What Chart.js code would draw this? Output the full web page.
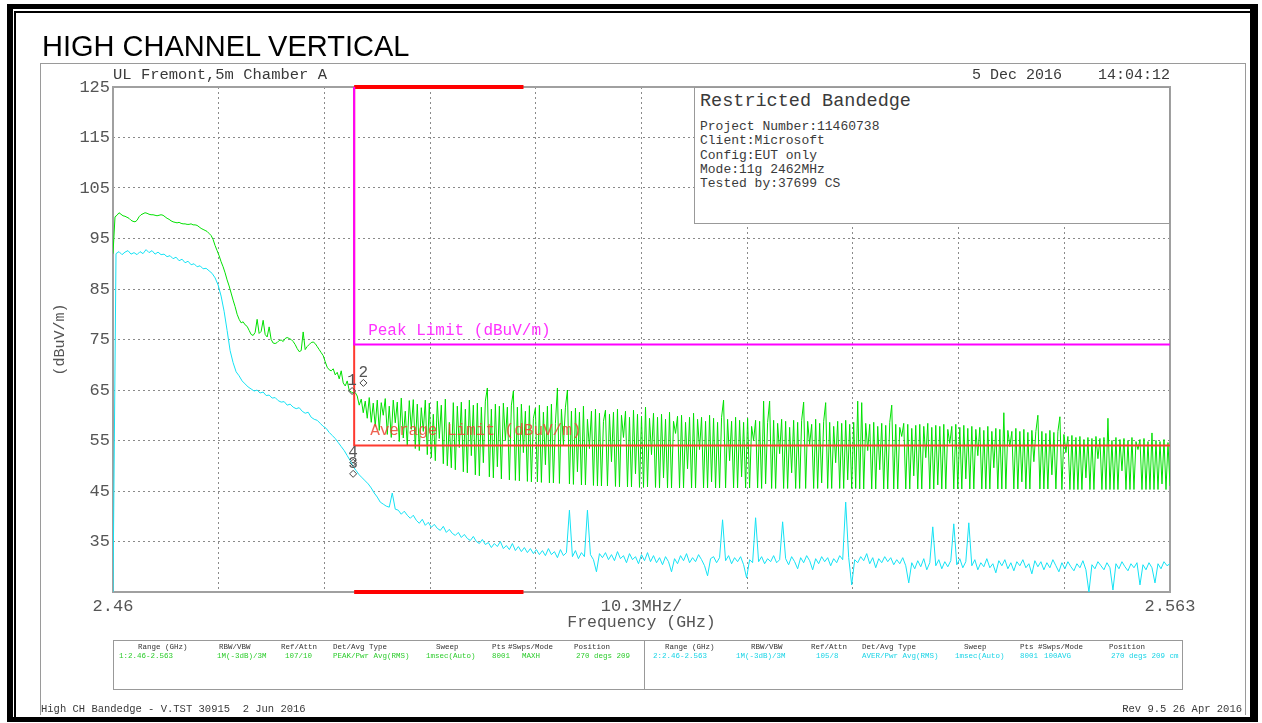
<!DOCTYPE html>
<html>
<head>
<meta charset="utf-8">
<title>HIGH CHANNEL VERTICAL</title>
<script src="https://cdn.jsdelivr.net/npm/chart.js@4.4.1/dist/chart.umd.min.js"></script>
<style>
  body { margin: 0; width: 1262px; height: 723px; position: relative; overflow: hidden; background: #fff; }
  #chart { position: absolute; left: 0; top: 0; }
  .t { position: absolute; white-space: pre; line-height: 1; font-family: "Liberation Mono", "DejaVu Sans Mono", monospace; color: #3a3a3a; }
  .box { position: absolute; box-sizing: border-box; }
</style>
</head>
<body>
<div class="box" style="left:7px;top:4px;width:1251px;height:718px;border:solid #000;border-width:5px 8px 5px 6px;"></div>
<div class="box" style="left:14px;top:11px;width:1236px;height:706px;border:solid #000;border-width:2px 0 0 2px;"></div>
<div class="box" style="left:40px;top:63px;width:1206px;height:652px;border:solid #9a9a9a;border-width:1px 1px 0 1px;"></div>

<canvas id="chart" width="1262" height="723"></canvas>

<div class="t" style="left:42px;top:32px;font:29px 'Liberation Sans',Arial,sans-serif;color:#000;line-height:1;">HIGH CHANNEL VERTICAL</div>
<div class="t" style="left:113px;top:68px;font-size:15.5px;">UL Fremont,5m Chamber A</div>
<div class="t" style="right:92px;top:68px;font-size:15px;">5 Dec 2016    14:04:12</div>

<div class="box" style="left:694px;top:87px;width:476px;height:137px;border:1px solid #999;background:#fff;"></div>
<div class="t" style="left:700px;top:93px;font-size:18.5px;">Restricted Bandedge</div>
<div class="t" style="left:700px;top:120px;font-size:13px;line-height:14.3px;">Project Number:11460738
Client:Microsoft
Config:EUT only
Mode:11g 2462MHz
Tested by:37699 CS</div>

<div class="box" style="left:113px;top:640px;width:1070px;height:50px;border:1px solid #999;"></div>
<div class="box" style="left:644px;top:640px;width:1px;height:50px;background:#999;"></div>

<div class="t" style="left:41px;top:704px;font-size:10.5px;">High CH Bandedge - V.TST 30915  2 Jun 2016</div>
<div class="t" style="right:20px;top:704px;font-size:10.5px;">Rev 9.5 26 Apr 2016</div>

<script>
// sweep span and scale labels
const fStart = 2.46;
const fStop = 2.563;
const xTickLabels = ['2.46', '', '', '', '', '10.3MHz/', '', '', '', '', '2.563'];
const yMin = 25, yMax = 125, yStep = 10;

// limits
const restrictedBand = [2.4835, 2.5];
const peakLimitLevel = 74;
const avgLimitLevel = 54;

// trace 1: PEAK / MAXH (dBuV/m), evenly spaced over the sweep
const peakLevel = [
  92, 99.3, 99.6, 100.1, 99.8, 99.5, 99.4, 99.2, 99.0, 98.6,
  98.4, 98.3, 98.6, 99.3, 99.7, 99.9, 100.1, 100.0, 99.8, 99.7,
  99.7, 99.6, 99.5, 99.6, 99.7, 99.6, 99.3, 99.0, 98.8, 98.5,
  98.3, 98.2, 98.1, 98.2, 98.0, 97.9, 97.9, 97.8, 97.8, 97.9,
  97.7, 97.7, 97.6, 97.3, 97.0, 96.8, 96.6, 96.4, 96.0, 95.6,
  94.8, 93.6, 92.6, 91.6, 90.4, 89.4, 88.2, 86.8, 85.6, 84.2,
  82.8, 81.5, 80.0, 79.0, 78.3, 78.5, 77.9, 77.6, 76.8, 76.0,
  75.8, 76.4, 79.0, 76.2, 76.6, 78.8, 76.0, 75.5, 77.5, 75.0,
  74.3, 74.2, 74.4, 74.8, 74.9, 74.6, 75.2, 75.4, 75.2, 75.0,
  74.6, 74.0, 73.2, 72.6, 72.8, 76.5, 73.0, 73.6, 74.0, 74.4,
  74.5, 74.2, 73.6, 73.0, 72.4, 71.8, 70.6, 69.5, 69.0, 68.8,
  69.2, 68.0, 68.5, 67.2, 68.8, 66.4, 65.8, 66.8, 64.9, 64.6,
  64.4, 64.5,
  63.8, 62.0, 63.2, 60.5, 62.8, 59.4, 63.5, 58.6, 62.4, 57.8,
  63.0, 57.0, 62.5, 60.0, 63.3, 56.2, 61.8, 55.6, 63.0, 58.5,
  62.6, 54.8, 63.4, 55.5, 60.8, 54.0, 62.9, 57.2, 63.1, 53.4,
  62.2, 53.0, 61.5, 56.8, 63.0, 52.2, 62.4, 51.6, 60.2, 51.0,
  62.8, 55.4, 62.0, 50.4, 63.2, 50.0, 58.6, 49.6, 62.5, 49.2,
  61.8, 53.6, 62.6, 48.8, 61.2, 48.6, 63.0, 52.0, 62.0, 48.2,
  62.4, 48.0, 61.6, 50.6, 62.8, 65.4, 47.8, 61.2, 47.6, 62.2,
  49.8, 61.8, 47.4, 62.4, 55.0, 61.6, 47.2, 62.0, 64.8, 47.1,
  61.6, 47.0, 62.2, 52.6, 60.8, 46.9, 61.9, 46.8, 59.4, 61.4,
  46.8, 62.0, 46.7, 60.6, 50.2, 61.8, 46.6, 62.2, 46.6, 58.4,
  65.4, 46.5, 61.2, 54.0, 61.6, 65.0, 46.4, 60.8, 46.3, 61.4,
  48.8, 60.6, 46.2, 61.8, 46.2, 59.2, 53.4, 60.8, 46.1, 61.2,
  46.0, 60.4, 46.0, 58.8, 61.0, 46.0, 60.2, 50.8, 60.6, 45.9,
  61.2, 45.8, 60.0, 55.6, 60.8, 45.8, 59.6, 45.8, 61.0, 48.4,
  60.2, 45.7, 59.8, 45.7, 61.6, 45.8, 59.4, 52.2, 60.4, 45.7,
  59.6, 45.6, 60.2, 47.6, 59.2, 45.6, 60.6, 45.6, 58.8, 56.4,
  59.8, 45.6, 60.0, 45.6, 58.6, 49.4, 59.6, 45.6, 60.4, 45.6,
  59.2, 53.2, 59.6, 45.6, 58.8, 45.6, 60.0, 46.8, 59.4, 45.6,
  58.6, 45.6, 59.6, 63.0, 45.6, 59.2, 51.0, 58.8, 45.6, 59.6,
  45.6, 59.0, 47.8, 58.6, 45.6, 59.4, 45.6, 57.8, 55.0, 59.0,
  45.6, 58.8, 45.5, 62.8, 46.4, 58.6, 62.8, 45.5, 59.0, 45.5,
  58.4, 52.4, 59.2, 45.5, 58.8, 45.5, 57.6, 48.6, 59.0, 45.5,
  58.6, 45.5, 59.0, 62.6, 45.5, 58.8, 54.2, 58.2, 45.5, 59.2,
  45.5, 58.4, 46.6, 58.8, 62.5, 45.5, 58.6, 45.5, 57.8, 50.6,
  58.8, 45.5, 58.4, 45.5, 59.0, 47.2, 58.2, 45.5, 58.6, 45.5,
  62.8, 45.4, 62.5, 45.4, 58.4, 53.0, 58.2, 45.4, 58.6, 45.4,
  57.8, 49.2, 58.4, 45.4, 58.0, 45.4, 58.6, 62.0, 45.4, 58.2,
  45.4, 57.6, 55.8, 58.4, 45.4, 58.2, 45.4, 57.4, 48.0, 58.0,
  45.4, 58.2, 45.4, 57.8, 51.6, 58.4, 45.4, 57.6, 45.4, 58.0,
  46.2, 57.8, 45.4, 58.2, 45.4, 57.2, 54.4, 57.8, 45.4, 58.2,
  45.4, 57.6, 45.4, 58.0, 47.4, 57.4, 45.4, 57.8, 45.4, 57.2,
  52.0, 57.6, 45.4, 57.0, 45.4, 57.8, 45.4, 56.8, 49.6, 57.4,
  45.4, 57.2, 45.4, 60.5, 45.4, 57.0, 53.8, 56.8, 45.4, 57.4,
  45.4, 56.8, 46.8, 57.2, 45.4, 56.6, 45.4, 57.0, 50.8, 56.8,
  60.0, 45.4, 56.8, 45.4, 56.4, 45.4, 57.0, 48.2, 56.6, 45.4,
  56.8, 59.7, 45.3, 56.2, 52.6, 55.8, 45.3, 56.0, 45.3, 55.6,
  45.3, 55.8, 45.3, 55.2, 47.6, 55.6, 45.3, 55.4, 45.3, 55.8,
  51.4, 55.4, 45.3, 55.6, 45.3, 59.4, 45.3, 55.0, 45.3, 55.6,
  45.3, 55.2, 49.0, 55.4, 45.3, 55.0, 45.3, 55.6, 45.3, 54.8,
  53.2, 55.2, 45.3, 55.4, 45.3, 54.8, 45.3, 56.5, 45.3, 55.0,
  45.3, 54.8, 46.4, 55.2, 45.3, 54.6, 46.0
];

// trace 2: AVER / 100 AVG (dBuV/m), evenly spaced over the sweep
const avgLevel = [
  25, 92.0, 92.4, 91.8, 92.3, 92.6, 91.9, 92.2, 91.8, 92.4,
  92.0, 92.8, 92.2, 92.6, 91.9, 92.3, 91.8, 91.9, 91.4, 91.6,
  91.0, 91.3, 90.6, 90.9, 90.2, 90.5, 89.8, 90.0, 89.4, 89.6,
  89.0, 89.1, 88.6, 88.1, 87.2, 85.8, 83.6, 80.6, 76.8, 72.8,
  70.4, 68.6, 67.8, 66.8, 66.2, 65.6, 65.2, 64.8, 65.0, 64.4,
  64.6, 63.9, 64.0, 63.4, 63.5, 62.9, 62.6, 62.7, 62.0, 62.2,
  61.6, 61.3, 61.5, 60.8, 60.4, 60.6, 59.6, 59.2, 59.0, 58.4,
  57.8, 57.4, 56.6, 56.0, 55.4, 54.6, 53.8, 53.0, 52.0, 51.0,
  49.8, 49.0, 48.2, 47.6, 47.0, 46.4, 45.6, 44.6, 43.8, 42.8,
  42.4, 42.0, 41.8, 44.6, 41.4, 41.2, 40.4, 41.0, 40.2, 39.6,
  40.2, 39.2, 38.6, 39.4, 38.2, 38.8, 37.8, 38.4, 37.6, 37.2,
  38.0, 36.8, 37.4, 36.6, 36.2, 36.8, 35.8, 36.4, 35.6, 35.2,
  36.0, 35.0, 34.6, 35.4, 34.4, 34.8, 33.8, 34.6, 34.0, 35.0,
  33.6, 34.2, 33.4, 34.6, 33.2, 34.0, 33.0, 33.8, 32.8, 33.6,
  32.6, 33.4, 32.4, 33.2, 32.2, 33.6, 32.4, 33.0, 31.8, 33.4,
  32.2, 32.8, 41.2, 32.0, 33.2, 31.6, 32.8, 32.0, 41.2, 32.4,
  31.4, 29.0, 32.6, 31.8, 32.8, 31.4, 32.4, 31.2, 33.0, 31.6,
  32.2, 30.8, 32.6, 31.4, 32.0, 30.6, 32.4, 31.2, 32.8, 31.0,
  32.2, 30.8, 31.8, 30.4, 32.0, 31.0, 29.0, 31.6, 30.6, 32.2,
  31.2, 32.6, 30.8, 31.8, 31.0, 32.4, 31.4, 30.2, 28.2, 31.6,
  32.0, 30.8, 31.8, 39.3, 31.2, 32.2, 30.6, 31.8, 31.0, 32.0,
  30.4, 27.8, 31.4, 30.8, 39.7, 31.0, 32.0, 30.6, 31.6, 31.0,
  32.2, 30.8, 31.4, 38.9, 31.6, 30.4, 32.0, 31.0, 29.6, 31.8,
  30.8, 32.2, 31.2, 29.4, 31.6, 30.6, 32.0, 31.0, 31.8, 30.2,
  31.6, 30.8, 32.2, 31.4, 42.8, 31.8, 26.4, 31.4, 30.8, 32.0,
  31.2, 32.6, 30.6, 31.8, 29.8, 31.6, 30.8, 32.0, 31.0, 31.8,
  30.4, 31.4, 30.6, 31.8, 30.2, 26.8, 30.8, 29.6, 31.2, 30.0,
  31.6, 29.4, 30.8, 37.9, 30.2, 31.4, 29.6, 31.0, 30.0, 31.2,
  38.5, 30.4, 31.6, 29.8, 31.0, 38.7, 30.2, 31.4, 29.4, 30.8,
  30.0, 31.6, 29.8, 30.6, 28.8, 31.2, 30.2, 31.4, 29.6, 30.8,
  29.2, 31.0, 30.2, 31.4, 29.8, 30.6, 28.6, 31.2, 30.0, 31.0,
  29.4, 30.8, 29.8, 31.4, 30.2, 29.0, 30.8, 29.6, 31.0, 30.0,
  29.2, 30.6, 29.8, 31.2, 29.4, 25.0, 30.4, 29.6, 31.0, 30.2,
  29.4, 30.8, 29.8, 25.4, 30.6, 29.6, 31.0, 30.0, 29.2, 30.6,
  29.8, 30.8, 26.4, 30.4, 29.4, 30.8, 29.8, 26.8, 30.6, 29.6,
  31.0, 30.2, 30.6
];

// markers
const markerNames = ['1', '2', '3', '4'];
const markerFreq = [2.4833, 2.4844, 2.4834, 2.4834];
const markerLevel = [64.8, 66.4, 48.4, 50.6];

// setup table under the plot
const tableHeaders = ['Range (GHz)', 'RBW/VBW', 'Ref/Attn', 'Det/Avg Type', 'Sweep', 'Pts', '#Swps/Mode', 'Position'];
const trace1Setup = ['1:2.46-2.563', '1M(-3dB)/3M', '107/10', 'PEAK/Pwr Avg(RMS)', '1msec(Auto)', '8001', 'MAXH', '270 degs 209'];
const trace2Setup = ['2:2.46-2.563', '1M(-3dB)/3M', '105/8', 'AVER/Pwr Avg(RMS)', '1msec(Auto)', '8001', '100AVG', '270 degs 209 cm'];

const mono = '"Liberation Mono", "DejaVu Sans Mono", monospace';

function addText(str, left, top, size, color) {
    var d = document.createElement('div');
    d.className = 't';
    d.textContent = str;
    d.style.left = left + 'px';
    d.style.top = top + 'px';
    d.style.fontSize = size + 'px';
    d.style.color = color;
    document.body.appendChild(d);
}

var h1x = [138, 219, 281, 333, 436, 492, 508, 574];
var v1x = [119, 217, 285, 333, 426, 492, 522, 576];
var h2x = [665, 751, 811, 862, 964, 1020, 1038, 1109];
var v2x = [653, 736, 816, 862, 955, 1020, 1044, 1111];
tableHeaders.forEach(function (h, i) {
    addText(h, h1x[i], 644, 7.5, '#333');
    addText(h, h2x[i], 644, 7.5, '#333');
    addText(trace1Setup[i], v1x[i], 653, 7.5, '#2ccc2c');
    addText(trace2Setup[i], v2x[i], 653, 7.5, '#1ad4e6');
});

function sweep(levels) {
    var step = (fStop - fStart) / (levels.length - 1);
    return levels.map(function (v, i) { return { x: fStart + i * step, y: v }; });
}

var xGridFreq = xTickLabels.map(function (l, k) { return fStart + k * (fStop - fStart) / (xTickLabels.length - 1); });

var annotate = {
    id: 'annotate',
    beforeDatasetsDraw: function (chart) {
        var ctx = chart.ctx, a = chart.chartArea;
        ctx.save();
        ctx.strokeStyle = '#a0a0a0';
        ctx.lineWidth = 2;
        ctx.strokeRect(a.left, a.top, a.right - a.left, a.bottom - a.top);
        ctx.restore();
    },
    afterDatasetsDraw: function (chart) {
        var ctx = chart.ctx, x = chart.scales.x, y = chart.scales.y;
        var x0 = x.getPixelForValue(restrictedBand[0]);
        ctx.save();
        ctx.font = '16px ' + mono;
        ctx.fillStyle = '#ff33ff';
        ctx.fillText('Peak Limit (dBuV/m)', x0 + 14, y.getPixelForValue(peakLimitLevel) - 10);
        ctx.fillStyle = 'rgba(235, 70, 50, 0.85)';
        ctx.fillText('Average Limit (dBuV/m)', x0 + 16, y.getPixelForValue(avgLimitLevel) - 11);
        ctx.font = '16px ' + mono;
        ctx.fillStyle = '#555';
        ctx.textAlign = 'center';
        markerNames.forEach(function (n, i) {
            ctx.fillText(n, x.getPixelForValue(markerFreq[i]), y.getPixelForValue(markerLevel[i]) - 6);
        });
        ctx.restore();
    }
};

new Chart(document.getElementById('chart'), {
    type: 'line',
    data: {
        datasets: [{
            label: 'markers',
            data: markerFreq.map(function (f, i) { return { x: f, y: markerLevel[i] }; }),
            showLine: false,
            pointStyle: 'rectRot',
            pointRadius: 3.5,
            borderColor: '#444',
            borderWidth: 1,
            backgroundColor: 'rgba(0,0,0,0)',
            order: 0
        }, {
            label: 'Peak Limit (dBuV/m)',
            data: [{ x: restrictedBand[0], y: yMax }, { x: restrictedBand[0], y: peakLimitLevel }, { x: fStop, y: peakLimitLevel }],
            borderColor: '#ff00ff',
            borderWidth: 2,
            order: 1
        }, {
            label: 'Average Limit (dBuV/m)',
            data: [{ x: restrictedBand[0], y: yMax }, { x: restrictedBand[0], y: avgLimitLevel }, { x: fStop, y: avgLimitLevel }],
            borderColor: '#ff3a30',
            borderWidth: 2,
            order: 2
        }, {
            label: 'band top',
            data: [{ x: restrictedBand[0], y: yMax }, { x: restrictedBand[1], y: yMax }],
            borderColor: '#ff0000',
            borderWidth: 4,
            clip: false,
            order: 3
        }, {
            label: 'band bottom',
            data: [{ x: restrictedBand[0], y: yMin }, { x: restrictedBand[1], y: yMin }],
            borderColor: '#ff0000',
            borderWidth: 4,
            clip: false,
            order: 3
        }, {
            label: 'Trace 2 AVER',
            data: sweep(avgLevel),
            borderColor: '#14e2f4',
            borderWidth: 1,
            order: 4
        }, {
            label: 'Trace 1 PEAK',
            data: sweep(peakLevel),
            borderColor: '#00e000',
            borderWidth: 1,
            order: 5
        }]
    },
    options: {
        responsive: false,
        animation: false,
        events: [],
        layout: { padding: { left: 40, right: 92, top: 87, bottom: 83 } },
        elements: { point: { radius: 0 }, line: { tension: 0 } },
        plugins: { legend: { display: false }, tooltip: { enabled: false } },
        scales: {
            x: {
                type: 'linear',
                min: fStart,
                max: fStop,
                afterBuildTicks: function (s) { s.ticks = xGridFreq.map(function (v) { return { value: v }; }); },
                afterFit: function (s) { s.height = 48; },
                grid: { color: '#8a8a8a', drawTicks: false },
                border: { display: false, dash: [2, 3] },
                ticks: {
                    autoSkip: false, maxRotation: 0, minRotation: 0, padding: 4,
                    color: '#555', font: { family: mono, size: 17 },
                    callback: function (v, i) { return xTickLabels[i]; }
                },
                title: { display: true, text: 'Frequency (GHz)', color: '#555', font: { family: mono, size: 16.5 }, padding: { top: 0, bottom: 7 } }
            },
            y: {
                min: yMin,
                max: yMax,
                afterFit: function (s) { s.width = 73; },
                grid: { color: '#8a8a8a', drawTicks: false },
                border: { display: false, dash: [2, 3] },
                ticks: {
                    stepSize: yStep, padding: 3,
                    color: '#555', font: { family: mono, size: 17 },
                    callback: function (v) { return v === yMin ? '' : v; }
                },
                title: { display: true, text: '(dBuV/m)', color: '#555', font: { family: mono, size: 15 }, padding: { top: 11, bottom: 0 } }
            }
        }
    },
    plugins: [annotate]
});
</script>
</body>
</html>
